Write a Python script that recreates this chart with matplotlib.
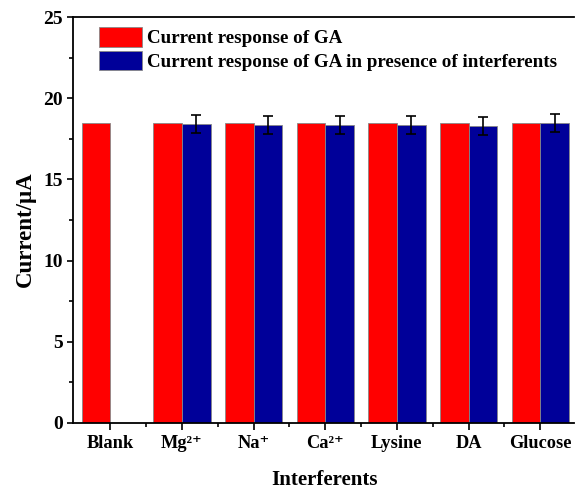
import numpy as np
import matplotlib.pyplot as plt

plt.rcParams['font.family'] = ['Liberation Serif', 'DejaVu Serif']
plt.rcParams['font.weight'] = 'bold'

# Data
categories = ['Blank', 'Mg\u00b2\u207a', 'Na\u207a', 'Ca\u00b2\u207a', 'Lysine', 'DA', 'Glucose']
ga_current = [18.5, 18.5, 18.5, 18.5, 18.5, 18.5, 18.5]
interf_current = [np.nan, 18.40, 18.36, 18.36, 18.33, 18.31, 18.48]
interf_err = [np.nan, 0.55, 0.55, 0.55, 0.55, 0.55, 0.57]

x = np.arange(len(categories))
width = 0.4

fig = plt.figure(figsize=(5.75, 4.9), dpi=100)
ax = fig.add_axes([0.127, 0.137, 0.871, 0.828])

ax.bar(x - width / 2, ga_current, width, color='#ff0000', edgecolor='#888888',
       linewidth=0.6, label='Current response of GA')
ax.bar(x + width / 2, interf_current, width, color='#000099', edgecolor='#888888',
       linewidth=0.6, label='Current response of GA in presence of interferents')
ax.errorbar(x + width / 2, interf_current, yerr=interf_err, fmt='none',
            ecolor='black', elinewidth=1.2, capsize=3.7, capthick=1.2)

ax.set_xlim(-0.52, 6.47)
ax.set_ylim(0, 25)
ax.set_xticks(x)
ax.set_xticklabels(categories)
ax.set_xticks(x[:-1] + 0.5, minor=True)
ax.set_yticks([0, 5, 10, 15, 20, 25])
ax.set_yticks(np.arange(2.5, 25, 5), minor=True)
ax.tick_params(axis='y', which='major', direction='out', length=4.5, width=1.2,
               labelsize=14, pad=3)
ax.tick_params(axis='x', which='major', direction='out', length=5, width=1.2,
               labelsize=13.2, pad=4)
ax.tick_params(axis='both', which='minor', direction='out', length=3, width=1.2)

for s in ['left', 'bottom', 'top']:
    ax.spines[s].set_linewidth(1.3)
ax.spines['right'].set_visible(False)

ax.set_xlabel('Interferents', fontsize=15, fontweight='bold')
ax.set_ylabel('Current/\u03bcA', fontsize=16.5, fontweight='bold')
ax.xaxis.set_label_coords(0.503, -0.116)
ax.yaxis.set_label_coords(-0.074, 0.478)

ax.legend(loc='upper left', bbox_to_anchor=(0.052, 0.975), frameon=False,
          fontsize=13.7, handlelength=2.25, handleheight=1.2, labelspacing=0.18,
          handletextpad=0.27, borderaxespad=0, borderpad=0)

fig.savefig('out.png', dpi=100)
